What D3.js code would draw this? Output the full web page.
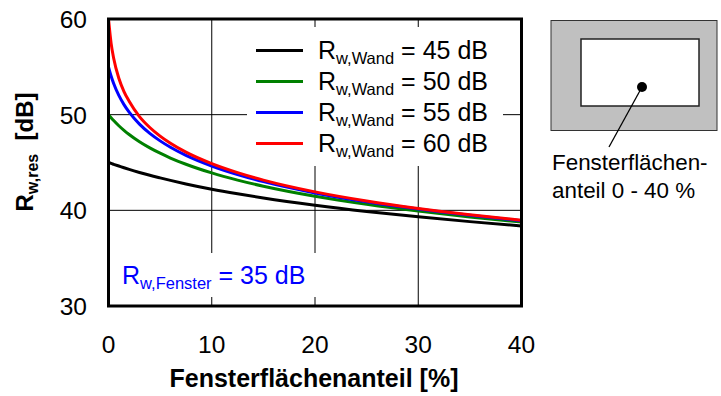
<!DOCTYPE html>
<html>
<head>
<meta charset="utf-8">
<script src="https://cdn.jsdelivr.net/npm/d3@7"></script>
<style>
  html, body { margin: 0; padding: 0; background: #fff; }
  svg { display: block; font-family: "Liberation Sans", Arial, sans-serif; }
</style>
</head>
<body>
<svg id="chart" width="721" height="396"></svg>
<script>
// Fensterflächenanteil in %
const windowShare = [0, 0.25, 0.5, 1, 1.5, 2, 3, 4, 5, 6, 7.5, 10, 12.5, 15, 20, 25, 30, 35, 40];

// Resultierendes Schalldämm-Maß Rw,res in dB for each wall rating
const rw45 = [45.0, 44.90, 44.81, 44.63, 44.45, 44.28, 43.96, 43.66, 43.39, 43.13, 42.76, 42.21, 41.73, 41.29, 40.53, 39.88, 39.32, 38.82, 38.37];
const rw50 = [50.0, 49.68, 49.38, 48.84, 48.36, 47.93, 47.17, 46.53, 45.97, 45.47, 44.82, 43.91, 43.16, 42.52, 41.47, 40.63, 39.92, 39.31, 38.78];
const rw55 = [55.0, 54.04, 53.25, 52.01, 51.05, 50.26, 49.01, 48.04, 47.26, 46.59, 45.74, 44.63, 43.74, 43.00, 41.82, 40.89, 40.13, 39.48, 38.91];
const rw60 = [60.0, 57.48, 55.90, 53.80, 52.42, 51.40, 49.80, 48.66, 47.76, 47.01, 46.08, 44.88, 43.94, 43.16, 41.93, 40.98, 40.20, 39.53, 38.96];

const seriesNames = ["45", "50", "55", "60"];
const seriesColors = ["#000000", "#008000", "#0000ff", "#ff0000"];

const xTicks = [0, 10, 20, 30, 40];
const yTicks = [30, 40, 50, 60];

const svg = d3.select("#chart");
const x = d3.scaleLinear().domain([0, 40]).range([108.5, 521.5]);
const y = d3.scaleLinear().domain([30, 60]).range([306, 19]);

// grid
const grid = svg.append("g");
grid.selectAll("line.gx").data(xTicks.slice(1, -1)).join("line")
  .attr("x1", d => x(d)).attr("x2", d => x(d))
  .attr("y1", y(60)).attr("y2", y(30))
  .attr("stroke", "#000").attr("stroke-width", 1);
grid.selectAll("line.gy").data(yTicks.slice(1, -1)).join("line")
  .attr("x1", x(0)).attr("x2", x(40))
  .attr("y1", d => y(d)).attr("y2", d => y(d))
  .attr("stroke", "#000").attr("stroke-width", 1);

// white panels behind legend and window label
svg.append("rect").attr("x", 247).attr("y", 27).attr("width", 256).attr("height", 139).attr("fill", "#fff");
svg.append("rect").attr("x", 112).attr("y", 253).attr("width", 208).attr("height", 44).attr("fill", "#fff");

// curves
const allSeries = [rw45, rw50, rw55, rw60];
const line = d3.line()
  .x((d, i) => x(windowShare[i]))
  .y(d => y(d))
  .curve(d3.curveMonotoneX);
svg.append("g").selectAll("path").data(allSeries).join("path")
  .attr("d", d => line(d))
  .attr("fill", "none")
  .attr("stroke", (d, i) => seriesColors[i])
  .attr("stroke-width", 3)
  .attr("stroke-linejoin", "round");

// frame
svg.append("rect")
  .attr("x", x(0)).attr("y", y(60))
  .attr("width", x(40) - x(0)).attr("height", y(30) - y(60))
  .attr("fill", "none").attr("stroke", "#000").attr("stroke-width", 3);

// tick labels
svg.append("g").selectAll("text").data(xTicks).join("text")
  .attr("x", d => x(d)).attr("y", 353)
  .attr("text-anchor", "middle").attr("font-size", 24.5)
  .text(d => d);
svg.append("g").selectAll("text").data(yTicks).join("text")
  .attr("x", 87).attr("y", d => y(d) + 9)
  .attr("text-anchor", "end").attr("font-size", 24.5)
  .text(d => d);

// axis titles
svg.append("text")
  .attr("x", 314).attr("y", 387)
  .attr("text-anchor", "middle").attr("font-size", 25).attr("font-weight", "bold")
  .text("Fensterflächenanteil [%]");

const yTitle = svg.append("text")
  .attr("transform", "translate(33,152) rotate(-90)")
  .attr("text-anchor", "middle").attr("font-weight", "bold").attr("font-size", 24);
yTitle.append("tspan").text("R");
yTitle.append("tspan").attr("font-size", 16).attr("dy", 5).text("w,res");
yTitle.append("tspan").attr("dy", -5).text("\u00a0\u00a0[dB]");

// legend
const legend = svg.append("g");
seriesNames.forEach((name, i) => {
  const by = 59 + i * 31;
  legend.append("line")
    .attr("x1", 256).attr("x2", 303).attr("y1", by - 8.5).attr("y2", by - 8.5)
    .attr("stroke", seriesColors[i]).attr("stroke-width", 3);
  const t = legend.append("text").attr("x", 318).attr("y", by).attr("font-size", 25);
  t.append("tspan").text("R");
  t.append("tspan").attr("font-size", 16.5).attr("dy", 5).text("w,Wand");
  t.append("tspan").attr("dy", -5).text("\u00a0=\u00a0" + name + "\u00a0dB");
});

// window label
const wl = svg.append("text").attr("x", 122).attr("y", 284).attr("font-size", 25).attr("fill", "#0000ff");
wl.append("tspan").text("R");
wl.append("tspan").attr("font-size", 16.5).attr("dy", 5).text("w,Fenster");
wl.append("tspan").attr("dy", -5).text("\u00a0=\u00a035\u00a0dB");

// wall sketch with window
const sk = svg.append("g");
sk.append("rect").attr("x", 551).attr("y", 20.5).attr("width", 166).attr("height", 110)
  .attr("fill", "#c0c0c0").attr("stroke", "#333").attr("stroke-width", 1);
sk.append("rect").attr("x", 581).attr("y", 39).attr("width", 118).attr("height", 67)
  .attr("fill", "#fff").attr("stroke", "#222").attr("stroke-width", 1.5);
sk.append("line").attr("x1", 642).attr("y1", 87).attr("x2", 609).attr("y2", 147)
  .attr("stroke", "#000").attr("stroke-width", 1.3);
sk.append("circle").attr("cx", 642).attr("cy", 87).attr("r", 5).attr("fill", "#000");
sk.append("text").attr("x", 552).attr("y", 170).attr("font-size", 22.4).text("Fensterflächen-");
sk.append("text").attr("x", 552).attr("y", 198).attr("font-size", 22.4).text("anteil 0 - 40 %");
</script>
</body>
</html>
